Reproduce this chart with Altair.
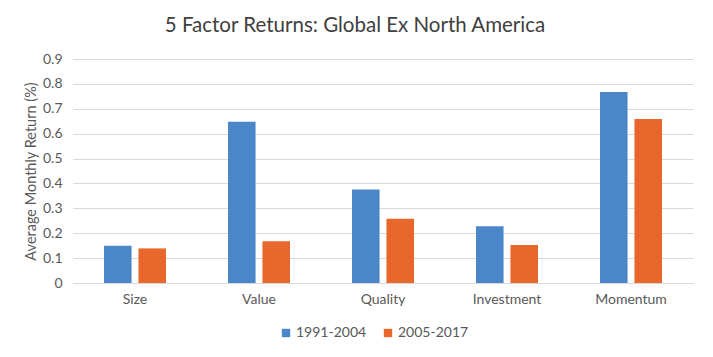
import altair as alt
import pandas as pd

categories = ["Size", "Value", "Quality", "Investment", "Momentum"]
series_names = ["1991-2004", "2005-2017"]
values_1991_2004 = [0.150, 0.648, 0.376, 0.228, 0.767]
values_2005_2017 = [0.139, 0.168, 0.258, 0.153, 0.659]
colors = ["#4a86c8", "#e8682b"]

rows = []
for i, c in enumerate(categories):
    rows.append({"Factor": c, "Period": series_names[0], "Return": values_1991_2004[i]})
    rows.append({"Factor": c, "Period": series_names[1], "Return": values_2005_2017[i]})
df = pd.DataFrame(rows)

font = "Lato"
grid = "#d9d9d9"
text_color = "#595959"

chart = alt.Chart(df).mark_bar().encode(
    x=alt.X("Factor:N", sort=categories,
            scale=alt.Scale(paddingInner=0.5, paddingOuter=0.25),
            axis=alt.Axis(title=None, labelAngle=0, ticks=False, domainColor=grid,
                          labelPadding=9, labelFontSize=14, labelColor=text_color,
                          labelFont=font)),
    xOffset=alt.XOffset("Period:N", sort=series_names,
                        scale=alt.Scale(paddingInner=0.2, paddingOuter=0)),
    y=alt.Y("Return:Q", scale=alt.Scale(domain=[0, 0.9]),
            axis=alt.Axis(title="Average Monthly Return (%)", values=[0, 0.1, 0.2, 0.3, 0.4, 0.5, 0.6, 0.7, 0.8, 0.9],
                          format="~g", ticks=False, domain=False, gridColor=grid,
                          labelPadding=11, labelFontSize=14, labelColor=text_color, labelFont=font,
                          titleFontSize=14.5, titleColor=text_color, titleFont=font, titleFontWeight="normal",
                          titlePadding=4)),
    color=alt.Color("Period:N", sort=series_names,
                    scale=alt.Scale(domain=series_names, range=colors),
                    legend=alt.Legend(title=None, orient="none", direction="horizontal",
                                      legendX=206, legendY=267, symbolType="square",
                                      symbolSize=70, symbolStrokeWidth=0, labelFontSize=14,
                                      labelColor=text_color, labelFont=font, columnPadding=14,
                                      labelOffset=3)),
).properties(
    width=620,
    height=224,
    title=alt.TitleParams("5 Factor Returns: Global Ex North America", fontSize=20.5,
                          font=font, fontWeight="normal", color="#404040", anchor="middle",
                          offset=16, dx=-28),
    autosize=alt.AutoSizeParams(type="none"),
    padding={"left": 65, "top": 51, "right": 12, "bottom": 66},
    background="white",
).configure_view(stroke=None)

chart.save("out.html", embed_options={"renderer": "svg", "actions": False})
